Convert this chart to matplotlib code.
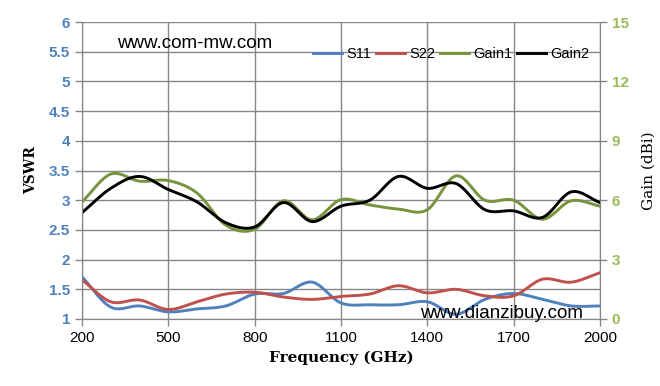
import numpy as np
import matplotlib.pyplot as plt

freq = [200, 300, 400, 500, 600, 700, 800, 900, 1000, 1100,
        1200, 1300, 1400, 1500, 1600, 1700, 1800, 1900, 2000]
s11 = [1.71, 1.20, 1.22, 1.12, 1.17, 1.22, 1.42, 1.43, 1.62, 1.27,
       1.24, 1.24, 1.29, 1.08, 1.33, 1.43, 1.33, 1.22, 1.22]
s22 = [1.66, 1.29, 1.32, 1.16, 1.29, 1.42, 1.45, 1.37, 1.33, 1.38,
       1.42, 1.56, 1.44, 1.50, 1.39, 1.39, 1.67, 1.62, 1.78]
gain1 = [5.91, 7.32, 6.96, 6.99, 6.36, 4.74, 4.53, 5.97, 5.01, 6.03,
         5.76, 5.55, 5.52, 7.23, 6.00, 6.00, 5.04, 5.97, 5.70]
gain2 = [5.37, 6.60, 7.20, 6.54, 5.91, 4.86, 4.65, 5.88, 4.92, 5.70,
         6.00, 7.20, 6.60, 6.84, 5.52, 5.46, 5.13, 6.42, 5.88]

x_ticks = [200, 500, 800, 1100, 1400, 1700, 2000]
vswr_ticks = [1, 1.5, 2, 2.5, 3, 3.5, 4, 4.5, 5, 5.5, 6]
gain_ticks = [0, 3, 6, 9, 12, 15]


def smooth(x, y, n=20):
    # Catmull-Rom spline, like Excel's smoothed line
    x = np.asarray(x, float)
    y = np.asarray(y, float)
    px = np.concatenate([[2 * x[0] - x[1]], x, [2 * x[-1] - x[-2]]])
    py = np.concatenate([[2 * y[0] - y[1]], y, [2 * y[-1] - y[-2]]])
    t = np.linspace(0, 1, n, endpoint=False)[:, None]
    xs, ys = [], []
    for i in range(1, len(px) - 2):
        for p, out in ((px, xs), (py, ys)):
            p0, p1, p2, p3 = p[i - 1], p[i], p[i + 1], p[i + 2]
            v = 0.5 * ((2 * p1) + (-p0 + p2) * t + (2 * p0 - 5 * p1 + 4 * p2 - p3) * t ** 2
                       + (-p0 + 3 * p1 - 3 * p2 + p3) * t ** 3)
            out.extend(v.ravel())
    xs.append(x[-1])
    ys.append(y[-1])
    return np.array(xs), np.array(ys)


blue = '#4F81BD'
red = '#C0504D'
green = '#77933C'
grid = '#878787'

fig = plt.figure(figsize=(6.6, 3.86), dpi=100)
ax = fig.add_axes([82 / 660, 1 - 319 / 386, 518 / 660, 297 / 386])
ax2 = ax.twinx()

ax.set_xlim(200, 2000)
ax.set_ylim(1, 6)
ax2.set_ylim(0, 15)

for a in (ax, ax2):
    for s in a.spines.values():
        s.set_color(grid)
    a.spines['top'].set_visible(False)

ax.set_yticks(vswr_ticks)
ax.set_yticklabels([f'{v:g}' for v in vswr_ticks], fontweight='bold',
                   fontsize=11, family='Liberation Sans')
ax.set_xticks(x_ticks)
ax.set_xticklabels([str(v) for v in x_ticks], fontsize=11, family='Liberation Sans')
ax2.set_yticks(gain_ticks)
ax2.set_yticklabels([str(v) for v in gain_ticks], fontweight='bold',
                    fontsize=11, family='Liberation Sans')
ax.tick_params(axis='both', colors=grid, length=5, width=1)
ax2.tick_params(axis='y', colors=grid, length=5, width=1)
for lbl in ax.get_yticklabels():
    lbl.set_color(blue)
for lbl in ax.get_xticklabels():
    lbl.set_color('black')
for lbl in ax2.get_yticklabels():
    lbl.set_color('#9BBB59')

ax.grid(True, color=grid, linewidth=1)
ax.set_axisbelow(True)

h1, = ax2.plot(*smooth(freq, (np.array(s11) - 1) * 3), color=blue, lw=2.1, label='S11')
h2, = ax2.plot(*smooth(freq, (np.array(s22) - 1) * 3), color=red, lw=2.1, label='S22')
h3, = ax2.plot(*smooth(freq, gain1), color=green, lw=2.1, label='Gain1')
h4, = ax2.plot(*smooth(freq, gain2), color='black', lw=2.1, label='Gain2')

ax.set_ylabel('VSWR', family='DejaVu Serif', fontweight='bold', fontsize=10, labelpad=8)
ax.set_xlabel('Frequency (GHz)', family='DejaVu Serif', fontweight='bold', fontsize=11, labelpad=4)
ax2.set_ylabel('Gain (dBi)', family='DejaVu Serif', fontsize=11, labelpad=9)

ax2.legend(handles=[h1, h2, h3, h4], ncol=4, loc='upper right', frameon=False,
           bbox_to_anchor=(1.005, 0.96), handlelength=2.0, columnspacing=0.3,
           handletextpad=0.3, prop={'family': 'Liberation Sans', 'size': 10.5})

fig.text(195 / 660, 1 - 43 / 386, 'www.com-mw.com', ha='center', va='center',
         fontsize=13.5, family='Liberation Sans')
fig.text(502 / 660, 1 - 313 / 386, 'www.dianzibuy.com', ha='center', va='center',
         fontsize=13.5, family='Liberation Sans')

fig.savefig('out.png', dpi=100)
